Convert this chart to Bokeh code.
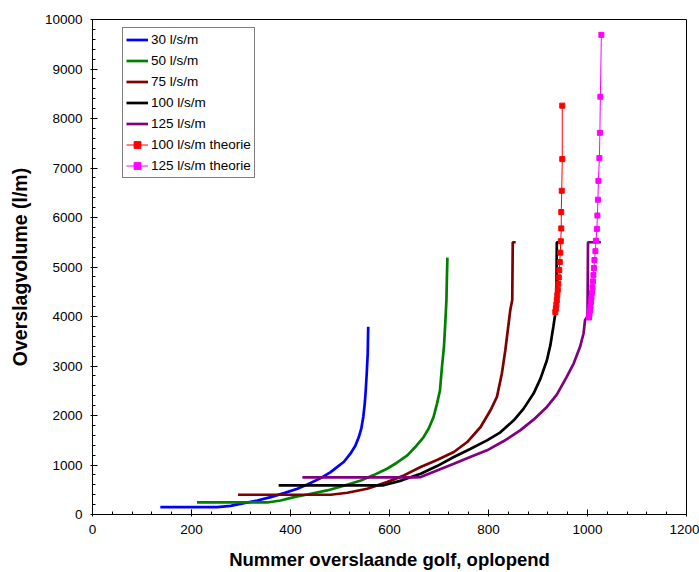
from bokeh.plotting import figure
from bokeh.models import Range1d, SingleIntervalTicker, Legend, LegendItem
from bokeh.embed import file_html
from bokeh.resources import INLINE

# ---- data ----
x30 = [137, 252, 279, 306, 333, 360, 387, 414, 434, 461, 481, 494, 508, 521, 531, 538, 543, 547, 550, 552, 554, 556, 557]
y30 = [150, 150, 175, 229, 283, 351, 432, 520, 607, 735, 857, 958, 1066, 1228, 1390, 1565, 1734, 1970, 2240, 2510, 2848, 3252, 3792]

x50 = [211, 353, 380, 407, 434, 474, 508, 542, 568, 595, 615, 636, 652, 669, 679, 689, 696, 702, 706, 710, 713, 715, 716, 717]
y50 = [243, 243, 283, 351, 405, 486, 580, 688, 796, 924, 1046, 1194, 1363, 1565, 1734, 1970, 2240, 2510, 2982, 3387, 3927, 4332, 4800, 5190]

x75 = [294, 481, 515, 555, 595, 629, 663, 696, 730, 757, 784, 804, 817, 827, 834, 839, 844, 848, 849, 855]
y75 = [399, 399, 439, 520, 654, 790, 960, 1100, 1262, 1464, 1768, 2105, 2375, 2848, 3320, 3725, 4130, 4332, 5500, 5500]

x100 = [376, 588, 625, 663, 696, 730, 763, 797, 824, 851, 871, 891, 905, 918, 925, 931, 935, 937, 938, 947]
y100 = [590, 590, 690, 823, 978, 1161, 1322, 1498, 1660, 1903, 2139, 2443, 2746, 3117, 3421, 3792, 4062, 4250, 5500, 5500]

x125 = [424, 650, 663, 696, 730, 763, 797, 831, 864, 891, 918, 938, 958, 972, 985, 992, 995, 1000, 1001, 1027]
y125 = [750, 750, 756, 891, 1026, 1161, 1296, 1484, 1700, 1916, 2173, 2422, 2780, 3050, 3387, 3657, 3927, 4000, 5500, 5500]

x100t = [935, 936, 937, 938, 939, 940, 941, 942, 943, 944, 945, 946, 947, 947, 948, 949, 949]
y100t = [4090, 4160, 4240, 4330, 4430, 4540, 4660, 4790, 4940, 5100, 5290, 5520, 5780, 6110, 6540, 7180, 8260]

x125t = [1003, 1004, 1005, 1006, 1007, 1008, 1009, 1010, 1011, 1012, 1013, 1014, 1016, 1017, 1019, 1020, 1021, 1022, 1024, 1025, 1026, 1028]
y125t = [3980, 4050, 4120, 4200, 4290, 4380, 4480, 4590, 4710, 4840, 4980, 5140, 5320, 5530, 5770, 6040, 6360, 6740, 7200, 7710, 8440, 9690]

labels = ["30 l/s/m", "50 l/s/m", "75 l/s/m", "100 l/s/m", "125 l/s/m",
          "100 l/s/m theorie", "125 l/s/m theorie"]
colors = ["#0000FF", "#008000", "#800000", "#000000", "#800080", "#FF0000", "#FF00FF"]

FONT = "Liberation Sans"

p = figure(width=699, height=572, output_backend="svg", toolbar_location=None,
           x_range=Range1d(0, 1200), y_range=Range1d(0, 10000),
           min_border_left=92, min_border_right=13, min_border_top=19,
           min_border_bottom=58, background_fill_color="white",
           border_fill_color="white")
p.outline_line_color = "black"
p.outline_line_width = 1
p.xgrid.visible = False
p.ygrid.visible = False

p.xaxis.ticker = SingleIntervalTicker(interval=200, num_minor_ticks=5)
p.yaxis.ticker = SingleIntervalTicker(interval=1000, num_minor_ticks=5)

for ax in (p.xaxis, p.yaxis):
    ax.axis_line_color = "black"
    ax.major_tick_line_color = "black"
    ax.minor_tick_line_color = "black"
    ax.major_tick_in = 5
    ax.major_tick_out = 2
    ax.minor_tick_in = 3
    ax.minor_tick_out = 0
    ax.major_label_text_font = FONT
    ax.major_label_text_font_size = "13.5px"
    ax.major_label_text_color = "black"
    ax.axis_label_text_font = FONT
    ax.axis_label_text_font_style = "bold"
    ax.axis_label_text_color = "black"

p.xaxis.axis_label_text_font_size = "18.5px"
p.yaxis.axis_label_text_font_size = "19.5px"
p.xaxis.axis_label = "Nummer overslaande golf, oplopend"
p.yaxis.axis_label = "Overslagvolume (l/m)"
p.xaxis.major_label_standoff = 8
p.yaxis.major_label_standoff = 8
p.xaxis.axis_label_standoff = 12
p.yaxis.axis_label_standoff = 11

series = [(x30, y30), (x50, y50), (x75, y75), (x100, y100), (x125, y125)]
items = []
for (xs, ys), lab, col in zip(series, labels[:5], colors[:5]):
    r = p.line(xs, ys, line_color=col, line_width=2.7)
    items.append(LegendItem(label=lab, renderers=[r]))

for (xs, ys), lab, col in zip([(x100t, y100t), (x125t, y125t)], labels[5:], colors[5:]):
    rl = p.line(xs, ys, line_color=col, line_width=1)
    rs = p.scatter(xs, ys, marker="square", size=5, fill_color=col, line_color=col)
    items.append(LegendItem(label=lab, renderers=[rl, rs]))

legend = Legend(items=items, location=(30, 336))
legend.border_line_color = "black"
legend.border_line_width = 1
legend.background_fill_color = "white"
legend.background_fill_alpha = 1
legend.label_text_font = FONT
legend.label_text_font_size = "13.5px"
legend.label_text_color = "black"
legend.glyph_width = 22
legend.glyph_height = 17
legend.label_height = 17
legend.spacing = 4
legend.padding = 3
legend.margin = 0
legend.label_standoff = 3
p.add_layout(legend, "center")

open("out.html", "w").write(file_html(p, INLINE))
